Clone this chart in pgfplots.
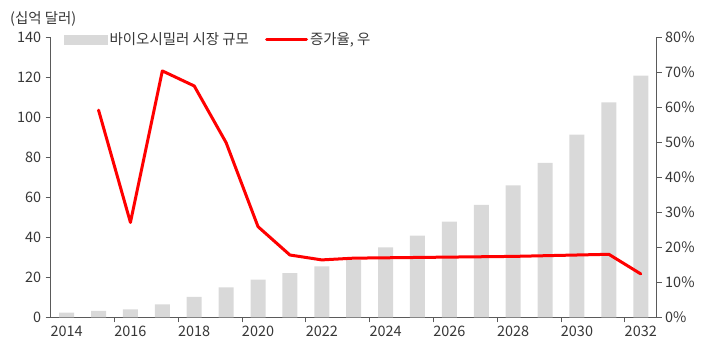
\documentclass[border=0pt]{standalone}
\usepackage{pgfplots}
\pgfplotsset{compat=1.18}
\usepackage{fontspec}
\setmainfont{Noto Sans CJK KR}
\definecolor{barg}{RGB}{217,217,217}
\definecolor{axg}{RGB}{90,90,90}
\definecolor{txt}{RGB}{55,55,55}
\pgfplotstableread{
yr val
2014 2.3
2015 3.2
2016 4.0
2017 6.5
2018 10.2
2019 15.0
2020 18.8
2021 22.1
2022 25.5
2023 28.6
2024 35.0
2025 40.8
2026 47.8
2027 56.2
2028 66.0
2029 77.2
2030 91.3
2031 107.5
2032 120.8
}\sizetab
\pgfplotstableread{
yr g
2015 59.2
2016 27.1
2017 70.4
2018 66.1
2019 49.9
2020 25.9
2021 17.8
2022 16.4
2023 16.9
2024 17.0
2025 17.1
2026 17.2
2027 17.3
2028 17.4
2029 17.6
2030 17.8
2031 18.0
2032 12.4
}\growtab
\begin{document}
\begin{tikzpicture}[font=\fontsize{14.5}{17}\selectfont, text=txt]
\useasboundingbox (-50.7bp,-34.7bp) rectangle (665.3bp,317.3bp);
\node[anchor=base west, inner sep=0pt] at (-40.7bp,293.3bp) {(십억 달러)};
\begin{axis}[
  at={(0,0)}, anchor=south west,
  scale only axis, width=606bp, height=280bp,
  xmin=2013.5, xmax=2032.5, ymin=0, ymax=140,
  axis x line*=bottom, axis y line*=left,
  axis line style={draw=axg, line width=0.9bp, -},
  xtick={2014,2016,...,2032},
  major x tick style={draw=none},
  minor xtick={2015.5,2017.5,...,2031.5},
  minor x tick style={draw=axg, line width=0.9bp},
  minor tick length=5bp, major tick length=5bp,
  tick align=outside,
  ytick={0,20,...,140},
  major y tick style={draw=axg, line width=0.9bp},
  /pgf/number format/assume math mode=true,
  /pgf/number format/1000 sep={},
  tick label style={text=txt},
  xticklabel style={yshift=-0.5bp},
  yticklabel style={xshift=-1bp},
]
\addplot[ybar, bar width=15bp, fill=barg, draw=none] table[x=yr, y=val] {\sizetab};
\end{axis}
\begin{axis}[
  at={(0,0)}, anchor=south west,
  scale only axis, width=606bp, height=280bp,
  xmin=2013.5, xmax=2032.5, ymin=0, ymax=80,
  axis x line=none, axis y line*=right,
  axis line style={draw=axg, line width=0.9bp, -},
  ytick={0,10,...,80},
  yticklabel={\pgfmathprintnumber{\tick}\%},
  major tick length=5bp, tick align=outside,
  major y tick style={draw=axg, line width=0.9bp},
  /pgf/number format/assume math mode=true,
  tick label style={text=txt},
  legend columns=2,
  legend style={at={(0.022,0.992)}, anchor=west, draw=none, fill=none,
    inner sep=0pt, nodes={inner sep=2bp, text=txt},
    /tikz/every even column/.append style={column sep=14bp}},
]
\addlegendimage{legend image code/.code={\fill[barg] (0bp,-4.5bp) rectangle (43bp,4.5bp);}}
\addlegendentry{바이오시밀러 시장 규모}
\addplot[red, line width=3bp, line join=round, line cap=round,
  legend image code/.code={\draw[red, line width=3bp, line cap=round] (0bp,0bp) -- (40bp,0bp);}]
  table[x=yr, y=g] {\growtab};
\addlegendentry{증가율, 우}
\end{axis}
\end{tikzpicture}
\end{document}
